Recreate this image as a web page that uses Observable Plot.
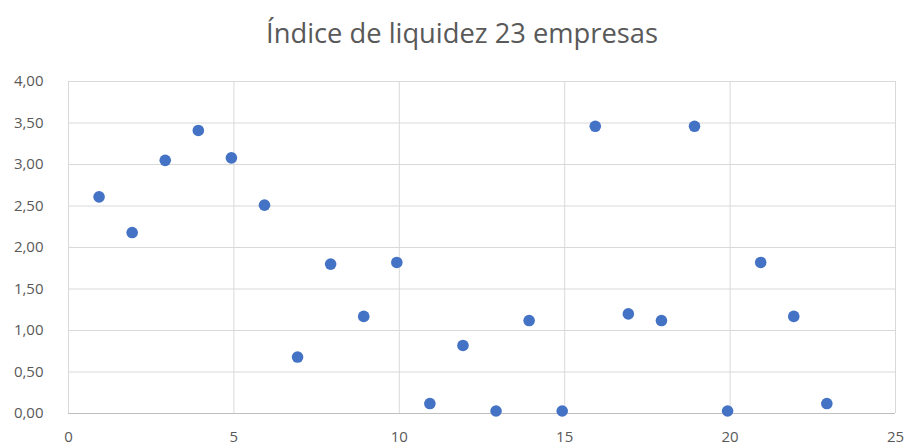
<!DOCTYPE html>
<html>
<head>
<meta charset="utf-8">
<script src="https://cdn.jsdelivr.net/npm/d3@7"></script>
<script src="https://cdn.jsdelivr.net/npm/@observablehq/plot@0.6"></script>
<style>
  body { margin: 0; background: #fff; }
  #title { box-sizing: border-box; height: 64px; padding-top: 19px; padding-left: 16px; line-height: 27px; text-align: center; font-family: "Open Sans", sans-serif; font-size: 27.3px; color: #595959; }
</style>
</head>
<body>
<div id="title">Índice de liquidez 23 empresas</div>
<div id="chart"></div>
<script>
const empresas = [1,2,3,4,5,6,7,8,9,10,11,12,13,14,15,16,17,18,19,20,21,22,23];
const liquidez = [2.61,2.18,3.05,3.41,3.08,2.51,0.68,1.80,1.17,1.82,0.12,0.82,0.03,1.12,0.03,3.46,1.20,1.12,3.46,0.03,1.82,1.17,0.12];
const xTicks = [0,5,10,15,20,25];
const yTicks = [0,0.5,1,1.5,2,2.5,3,3.5,4];

const data = empresas.map((e, i) => ({x: e, y: liquidez[i]}));
const fmt = v => v.toFixed(2).replace(".", ",");

const chart = Plot.plot({
  width: 908,
  height: 382,
  marginLeft: 68,
  marginRight: 13,
  marginTop: 17,
  marginBottom: 33,
  style: { fontFamily: "Open Sans, sans-serif", fontSize: "15px", color: "#595959", background: "#fff" },
  x: { domain: [0, 25], ticks: xTicks, label: null },
  y: { domain: [0, 4], ticks: yTicks, label: null },
  marks: [
    Plot.gridX(xTicks, { stroke: "#d9d9d9", strokeOpacity: 1, strokeWidth: 1 }),
    Plot.gridY(yTicks, { stroke: "#d9d9d9", strokeOpacity: 1, strokeWidth: 1 }),
    Plot.ruleY([0], { stroke: "#bfbfbf", strokeWidth: 1 }),
    Plot.axisX(xTicks, { tickSize: 0, tickPadding: 18, fill: "#595959", label: null }),
    Plot.axisY(yTicks, { tickSize: 0, tickPadding: 25, tickFormat: fmt, fill: "#595959", label: null }),
    Plot.dot(data, { x: "x", y: "y", r: 5.8, dx: -2.5, fill: "#4472C4", stroke: "none" })
  ]
});
document.getElementById("chart").appendChild(chart);
</script>
</body>
</html>
